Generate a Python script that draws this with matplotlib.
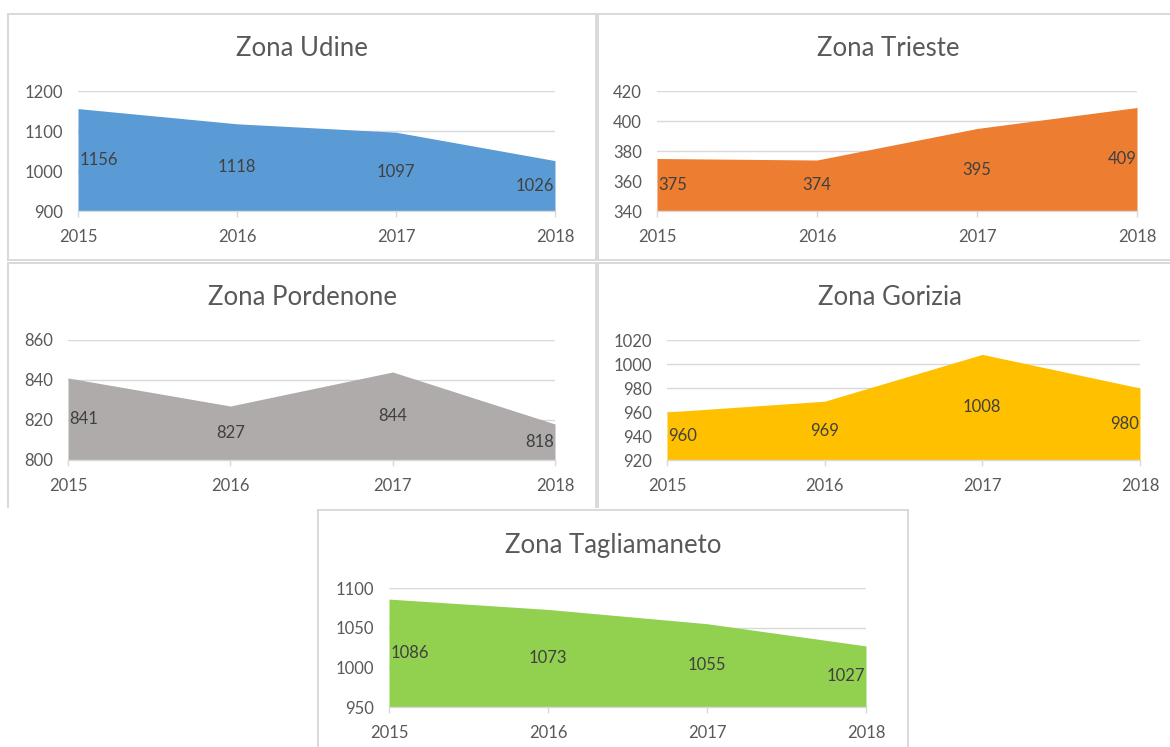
import matplotlib
matplotlib.use('Agg')
import matplotlib.pyplot as plt
from matplotlib.lines import Line2D

plt.rcParams['font.family'] = ['Lato', 'DejaVu Sans']

W, H = 1170, 747

years = ['2015', '2016', '2017', '2018']
udine = [1156, 1118, 1097, 1026]
trieste = [375, 374, 395, 409]
pordenone = [841, 827, 844, 818]
gorizia = [960, 969, 1008, 980]
tagliamaneto = [1086, 1073, 1055, 1027]

titles = ['Zona Udine', 'Zona Trieste', 'Zona Pordenone', 'Zona Gorizia', 'Zona Tagliamaneto']
series = [udine, trieste, pordenone, gorizia, tagliamaneto]
colors = ['#5B9BD5', '#ED7D31', '#AEABAA', '#FFC000', '#92D050']
yranges = [(900, 1200, 100), (340, 420, 20), (800, 860, 20), (920, 1020, 20), (950, 1100, 50)]

# layout in pixels: plot area (x0, x1, ytop, ybot), panel box (x0, x1, y0, y1), title centre
plots = [(78, 555, 91, 211), (657, 1137, 91, 211), (68, 555, 340, 460),
         (667, 1140, 340, 460), (389, 866, 588, 707)]
boxes = [(8, 596, 14, 260), (598, 1172, 14, 260), (8, 596, 263, 507),
         (598, 1172, 263, 507), (318, 908, 510, 750)]
title_pos = [(302, 48), (888, 48), (302, 297), (890, 297), (613, 546)]

GRID = '#D9D9D9'
TXT = '#595959'
LBL = '#404040'

fig = plt.figure(figsize=(W / 100, H / 100), dpi=100)


def fline(x0, y0, x1, y1):
    fig.add_artist(Line2D([x0 / W, x1 / W], [1 - y0 / H, 1 - y1 / H],
                          color=GRID, lw=1.4, transform=fig.transFigure))


for k in range(5):
    bx0, bx1, by0, by1 = boxes[k]
    fline(bx0, by0, bx1, by0)
    fline(bx0, by0, bx0, by1)
    fline(bx1, by0, bx1, by1)
    if k < 2:
        fline(bx0, by1, bx1, by1)

    px0, px1, pyt, pyb = plots[k]
    ax = fig.add_axes([px0 / W, 1 - pyb / H, (px1 - px0) / W, (pyb - pyt) / H])
    vals = series[k]
    ymin, ymax, step = yranges[k]
    xs = list(range(len(years)))
    ax.fill_between(xs, ymin, vals, color=colors[k], lw=0, zorder=2)
    ax.set_xlim(0, len(years) - 1)
    ax.set_ylim(ymin, ymax)
    ax.set_yticks(list(range(ymin, ymax + 1, step)))
    ax.set_xticks(xs)
    ax.set_xticklabels(years)
    ax.grid(axis='y', color=GRID, lw=1.0, zorder=0)
    for s in ['top', 'right', 'left']:
        ax.spines[s].set_visible(False)
    ax.spines['bottom'].set_color(GRID)
    ax.spines['bottom'].set_linewidth(1.0)
    ax.spines['bottom'].set_zorder(3)
    ax.tick_params(axis='y', length=0, pad=11, labelsize=12, labelcolor=TXT)
    ax.tick_params(axis='x', length=4, width=1.0, color=GRID, pad=9,
                   labelsize=12, labelcolor=TXT)
    ax.set_facecolor('none')

    for i, v in enumerate(vals):
        ha = 'center'
        xo = i
        if i == 0:
            ha = 'left'
            xo = 0.01
        elif i == len(vals) - 1:
            ha = 'right'
            xo = len(vals) - 1 - 0.005
        ax.text(xo, (v + ymin) / 2, str(v), ha=ha, va='center',
                fontsize=12, color=LBL, zorder=5)

    tx, ty = title_pos[k]
    fig.text(tx / W, 1 - ty / H, titles[k], ha='center', va='center',
             fontsize=18.5, color=TXT)

fig.savefig('out.png', dpi=100)
